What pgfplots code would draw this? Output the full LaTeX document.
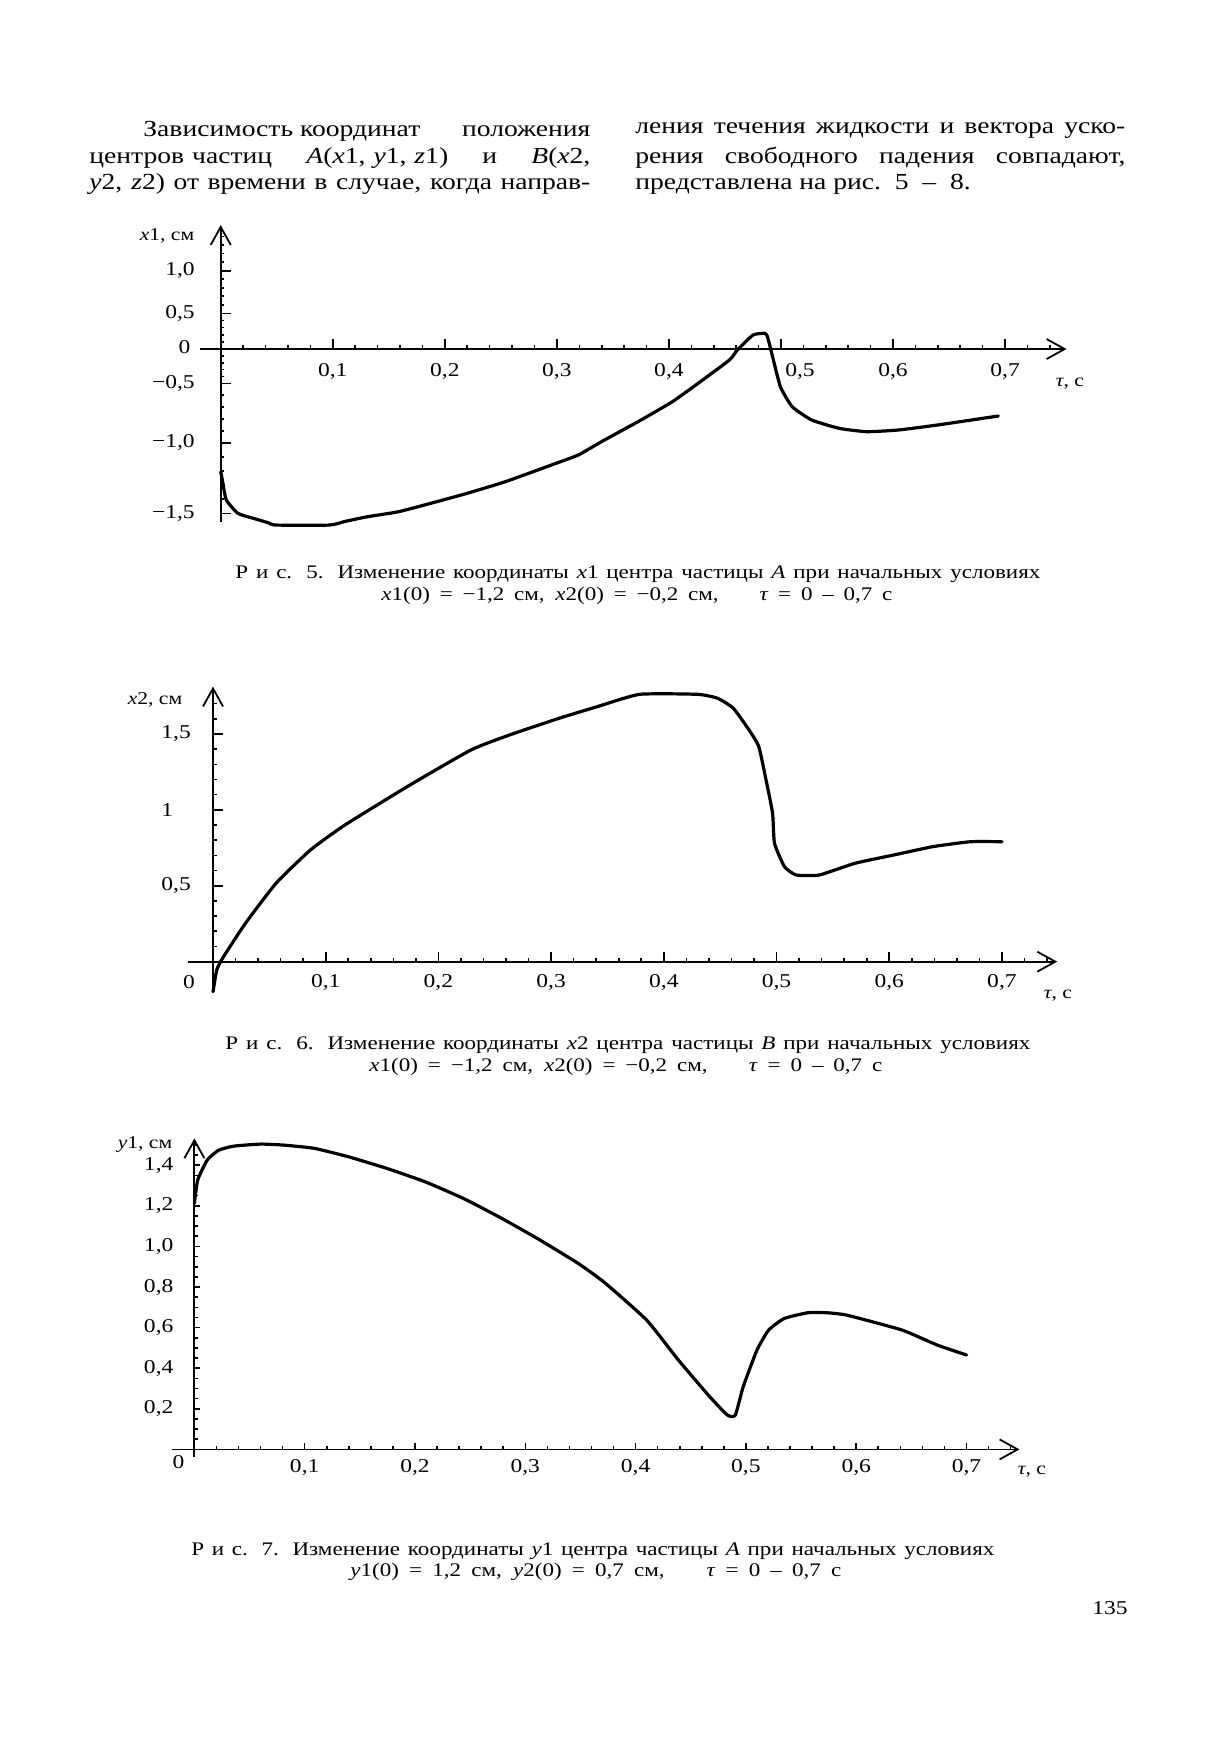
\documentclass[border=0pt]{standalone}
\usepackage{fontspec}
\setmainfont{Liberation Serif}[FakeStretch=1.2]
\usepackage{pgfplots}
\pgfplotsset{compat=1.18}
\usetikzlibrary{arrows.meta}
\newlength\pxu
\setlength\pxu{0.5bp}
\newcommand\bodyfont{\fontsize{11.5bp}{13bp}\selectfont}
\newcommand\capfont{\fontsize{9.6bp}{11bp}\selectfont}
\newcommand\lblfont{\fontsize{9bp}{11bp}\selectfont}
\newcommand\tickfont{\fontsize{9.8bp}{11bp}\selectfont}
\pgfplotsset{
  pagefig/.style={
    axis lines=middle,
    axis line style={line width=0.9bp, -{Straight Barb[length=9bp,width=10bp,line width=0.9bp]}},
    enlargelimits=false,
    clip=false,
    tick align=inside,
    major tick length=5bp,
    minor tick length=1.8bp,
    tick style={black, line width=0.8bp},
    xticklabel style={anchor=north, inner sep=0pt, font=\tickfont},
    yticklabel style={inner sep=0pt, font=\tickfont},
  },
  curve/.style={black, line width=1.6bp, line join=round, line cap=round, mark=none, smooth, tension=0.3},
}
\begin{document}
\begin{tikzpicture}[x=0.5bp,y=-0.5bp]
\path[use as bounding box, fill=white] (0,0) rectangle (1215,1749);
\coordinate (f5) at (200,521.8);
\coordinate (f6) at (188,991.7);
\coordinate (f7) at (172,1456.7);

% ---- body text ----
\node[anchor=west, inner sep=0pt, font=\bodyfont] at (143,131) {\makebox[447\pxu][s]{Зависимость координат \hspace{0pt plus 1fill}положения}};
\node[anchor=west, inner sep=0pt, font=\bodyfont] at (89,158) {\makebox[501\pxu][s]{центров\hspace*{4bp}частиц \textit{A}(\textit{x}1,\hspace*{4bp}\textit{y}1,\hspace*{4bp}\textit{z}1) и \textit{B}(\textit{x}2,}};
\node[anchor=west, inner sep=0pt, font=\bodyfont] at (89,184) {\makebox[501\pxu][s]{\textit{y}2, \textit{z}2) от времени в случае, когда направ-}};
\node[anchor=west, inner sep=0pt, font=\bodyfont] at (635,131) {\makebox[490\pxu][s]{ления течения жидкости и вектора уско-}};
\node[anchor=west, inner sep=0pt, font=\bodyfont] at (635,158) {\makebox[490\pxu][s]{рения свободного падения совпадают,}};
\node[anchor=west, inner sep=0pt, font=\bodyfont] at (635,184) {представлена на рис.\hspace{0.6em}5\hspace{0.6em}–\hspace{0.6em}8.};

% ---- Fig 5 ----
\begin{axis}[pagefig,
  at={(f5)}, anchor=south west,
  x=560.25bp, y=0.5bp,
  xmin=-0.0185, xmax=0.7548, ymin=-1.56, ymax=1.536,
  y coord trafo/.code={\pgfmathparse{(#1<-1)?(-93.7+(#1+1)*141.2):((#1<-0.5)?(-34.3+(#1+0.5)*118.8):((#1<0)?(#1*68.6):((#1<0.5)?(#1*71.4):(35.7+(#1-0.5)*85.2))))}},
  xtick={0.1,0.2,0.3,0.4,0.5,0.6,0.7},
  xticklabels={{0,1},{0,2},{0,3},{0,4},{\hspace*{19bp}0,5},{0,6},{0,7}},
  minor xtick={0.02,0.04,...,0.74},
  ytick={-1.5,-1,-0.5,0,0.5,1},
  yticklabels={{−1,5},{−1,0},{−0,5},{0},{0,5},{1,0}},
  minor ytick={-1.5,-1.4,...,1.5},
  xticklabel style={yshift=-7bp},
  yticklabel style={anchor=east, xshift=-12.8bp},
]
\addplot[curve] coordinates {
(0,-1.205) (0.002,-1.288) (0.005,-1.406) (0.0153,-1.50) (0.029,-1.535)
(0.0426,-1.567) (0.049,-1.583) (0.097,-1.583) (0.111,-1.557) (0.131,-1.524)
(0.159,-1.488) (0.193,-1.417) (0.220,-1.358) (0.254,-1.276) (0.295,-1.158)
(0.319,-1.087) (0.340,-0.99) (0.375,-0.809) (0.403,-0.655) (0.426,-0.50)
(0.454,-0.16) (0.461,-0.015) (0.475,0.196) (0.4855,0.22) (0.488,0.17)
(0.4925,-0.112) (0.4995,-0.529) (0.510,-0.697) (0.5275,-0.809) (0.552,-0.879)
(0.5765,-0.907) (0.6045,-0.893) (0.6395,-0.851) (0.694,-0.775)
};
\node[font=\tickfont, anchor=east, inner sep=0pt, xshift=-15bp, yshift=1bp] at (axis cs:0,0) {0};
\end{axis}
\node[font=\lblfont] at (167,236) {\textit{x}1, см};
\node[font=\lblfont] at (1070,384) {\textit{τ}, с};
\node[anchor=west, inner sep=0pt, font=\capfont] at (235,574) {\makebox[805\pxu][s]{Р и с. 5. Изменение координаты \textit{x}1 центра частицы \textit{A} при начальных условиях}};
\node[anchor=west, inner sep=0pt, font=\capfont] at (381,596) {\makebox[511\pxu][s]{\textit{x}1(0) = −1,2 см, \textit{x}2(0) = −0,2 см, \hspace{1em} \textit{τ} = 0 – 0,7 с}};

% ---- Fig 6 ----
\begin{axis}[pagefig,
  at={(f6)}, anchor=south west,
  x=563.5bp, y=75.9bp,
  xmin=-0.0222, xmax=0.749, ymin=-0.198, ymax=1.812,
  xtick={0.1,0.2,0.3,0.4,0.5,0.6,0.7},
  xticklabels={{0,1},{0,2},{0,3},{0,4},{0,5},{0,6},{0,7}},
  minor xtick={0.02,0.04,...,0.74},
  ytick={0.5,1,1.5},
  yticklabels={{0,5},{1},{1,5}},
  minor ytick={0.1,0.2,...,1.7},
  xticklabel style={yshift=-6bp},
  yticklabel style={anchor=west, xshift=-26bp},
]
\addplot[curve] coordinates {
(0,-0.198) (0.0033,-0.055) (0.0084,0.022) (0.0288,0.253) (0.0559,0.516)
(0.0865,0.736) (0.117,0.90) (0.1748,1.164) (0.229,1.395) (0.263,1.493)
(0.307,1.603) (0.341,1.68) (0.3785,1.761) (0.430,1.761) (0.4477,1.735)
(0.4617,1.669) (0.4756,1.526) (0.4843,1.416) (0.4913,1.175) (0.4965,0.977)
(0.4982,0.78) (0.507,0.626) (0.5174,0.571) (0.538,0.571) (0.5696,0.648)
(0.6043,0.703) (0.639,0.758) (0.672,0.79) (0.700,0.79)
};
\node[font=\tickfont, xshift=-12bp, yshift=-10bp] at (axis cs:0,0) {0};
\end{axis}
\node[font=\lblfont] at (155,700) {\textit{x}2, см};
\node[font=\lblfont] at (1058,996) {\textit{τ}, с};
\node[anchor=west, inner sep=0pt, font=\capfont] at (225,1045) {\makebox[805\pxu][s]{Р и с. 6. Изменение координаты \textit{x}2 центра частицы \textit{B} при начальных условиях}};
\node[anchor=west, inner sep=0pt, font=\capfont] at (369,1067) {\makebox[513\pxu][s]{\textit{x}1(0) = −1,2 см, \textit{x}2(0) = −0,2 см, \hspace{1em} \textit{τ} = 0 – 0,7 с}};

% ---- Fig 7 ----
\begin{axis}[pagefig,
  at={(f7)}, anchor=south west,
  x=551.5bp, y=101.5bp,
  xmin=-0.0203, xmax=0.748, ymin=-0.036, ymax=1.532,
  xtick={0.1,0.2,0.3,0.4,0.5,0.6,0.7},
  xticklabels={{0,1},{0,2},{0,3},{0,4},{0,5},{0,6},{0,7}},
  minor xtick={0.02,0.04,...,0.74},
  major tick length=3bp,
  ytick={0.2,0.4,0.6,0.8,1.0,1.2,1.4},
  yticklabels={{0,2},{0,4},{0,6},{0,8},{1,0},{1,2},{1,4}},
  minor ytick={0.05,0.1,...,1.5},
  xticklabel style={yshift=-4.6bp},
  yticklabel style={anchor=east, xshift=-10.3bp},
]
\addplot[curve] coordinates {
(0,1.212) (0.003,1.327) (0.0116,1.425) (0.022,1.474) (0.0358,1.494)
(0.060,1.504) (0.081,1.499) (0.1087,1.483) (0.140,1.441) (0.1746,1.384)
(0.2093,1.318) (0.244,1.236) (0.2787,1.138) (0.3134,1.031) (0.348,0.916)
(0.3718,0.822) (0.410,0.637) (0.4388,0.44) (0.4673,0.259) (0.4833,0.169)
(0.4904,0.169) (0.4975,0.308) (0.510,0.489) (0.5206,0.588) (0.5348,0.645)
(0.556,0.673) (0.574,0.673) (0.5917,0.661) (0.6415,0.588) (0.6735,0.514)
(0.700,0.465)
};
\node[font=\tickfont, xshift=-8bp, yshift=-6.2bp] at (axis cs:0,0) {0};
\end{axis}
\node[font=\lblfont] at (145,1144) {\textit{y}1, см};
\node[font=\lblfont] at (1032,1472) {\textit{τ}, с};
\node[anchor=west, inner sep=0pt, font=\capfont] at (191,1551) {\makebox[803\pxu][s]{Р и с. 7. Изменение координаты \textit{y}1 центра частицы \textit{A} при начальных условиях}};
\node[anchor=west, inner sep=0pt, font=\capfont] at (350,1572) {\makebox[491\pxu][s]{\textit{y}1(0) = 1,2 см, \textit{y}2(0) = 0,7 см, \hspace{1em} \textit{τ} = 0 – 0,7 с}};

\node[font=\tickfont] at (1110,1608) {135};
\end{tikzpicture}
\end{document}
